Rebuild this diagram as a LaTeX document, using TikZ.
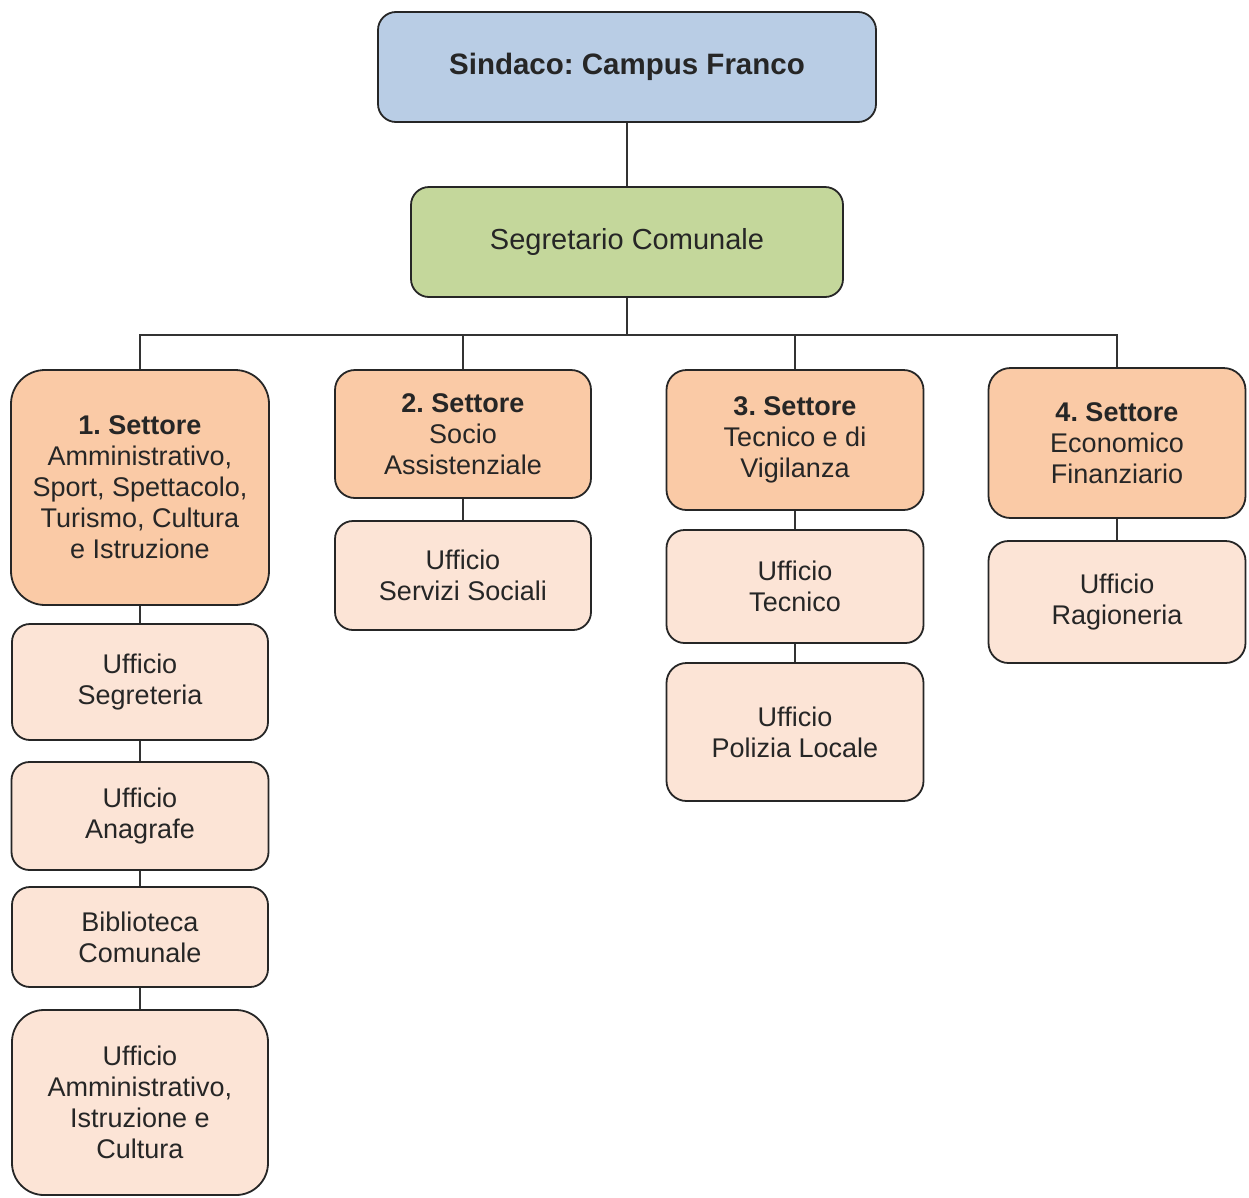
\documentclass[tikz,border=0pt]{standalone}
\usepackage{fontspec}
\setmainfont{Liberation Sans}
\frenchspacing
\begin{document}
\begin{tikzpicture}[x=1pt,y=-1pt,
  box/.style={draw=black!85, line width=1.8pt, rounded corners=18pt, align=center, inner sep=0pt,
    font=\fontsize{27}{31}\selectfont, text=black!85},
  blubox/.style={box, fill=blueA},
  grnbox/.style={box, fill=greenA},
  setbox/.style={box, fill=orangeA},
  ufbox/.style={box, fill=peachA},
  link/.style={draw=black!80, line width=1.8pt}]
\definecolor{blueA}{RGB}{185,205,229}
\definecolor{greenA}{RGB}{196,215,155}
\definecolor{orangeA}{RGB}{250,202,166}
\definecolor{peachA}{RGB}{252,228,214}
\useasboundingbox[fill=white] (0,0) rectangle (1249,1197);

\node[blubox, minimum width=498pt, minimum height=110pt, font=\fontsize{29.5}{33}\selectfont\bfseries] (sind) at (627,67) {Sindaco: Campus Franco};
\node[grnbox, minimum width=432pt, minimum height=110pt, font=\fontsize{29}{33}\selectfont] (seg) at (627,242) {Segretario Comunale};

\node[setbox, minimum width=258pt, minimum height=235pt, rounded corners=34pt] (s1) at (140,487.5) {\textbf{1. Settore}\\Amministrativo,\\Sport, Spettacolo,\\Turismo, Cultura\\e Istruzione};
\node[setbox, minimum width=256pt, minimum height=128pt, rounded corners=20pt] (s2) at (463,434) {\textbf{2. Settore}\\Socio\\Assistenziale};
\node[setbox, minimum width=257pt, minimum height=140pt, rounded corners=20pt] (s3) at (795,440) {\textbf{3. Settore}\\Tecnico e di\\Vigilanza};
\node[setbox, minimum width=257pt, minimum height=150pt, rounded corners=22pt] (s4) at (1117,443) {\textbf{4. Settore}\\Economico\\Finanziario};

\node[ufbox, minimum width=256pt, minimum height=116pt] (u11) at (140,682) {Ufficio\\Segreteria};
\node[ufbox, minimum width=257pt, minimum height=108pt] (u12) at (140,816) {Ufficio\\Anagrafe};
\node[ufbox, minimum width=256pt, minimum height=100pt] (u13) at (140,937) {Biblioteca\\Comunale};
\node[ufbox, minimum width=256pt, minimum height=185pt, rounded corners=32pt] (u14) at (140,1102.5) {Ufficio\\Amministrativo,\\Istruzione e\\Cultura};

\node[ufbox, minimum width=256pt, minimum height=109pt] (u21) at (463,575.5) {Ufficio\\Servizi Sociali};
\node[ufbox, minimum width=257pt, minimum height=113pt] (u31) at (795,586.5) {Ufficio\\Tecnico};
\node[ufbox, minimum width=257pt, minimum height=138pt, rounded corners=20pt] (u32) at (795,732) {Ufficio\\Polizia Locale};
\node[ufbox, minimum width=257pt, minimum height=122pt, rounded corners=20pt] (u41) at (1117,602) {Ufficio\\Ragioneria};

\coordinate (bus) at (627,335);

\draw[link] (sind.south) -- (seg.north);
\draw[link] (seg.south) -- (seg.south |- bus);
\draw[link] (s1.north) -- (s1.north |- bus) -- (s4.north |- bus) -- (s4.north);
\draw[link] (s2.north) -- (s2.north |- bus);
\draw[link] (s3.north) -- (s3.north |- bus);

\draw[link] (s1.south) -- (u11.north);
\draw[link] (u11.south) -- (u12.north);
\draw[link] (u12.south) -- (u13.north);
\draw[link] (u13.south) -- (u14.north);
\draw[link] (s2.south) -- (u21.north);
\draw[link] (s3.south) -- (u31.north);
\draw[link] (u31.south) -- (u32.north);
\draw[link] (s4.south) -- (u41.north);
\end{tikzpicture}
\end{document}
